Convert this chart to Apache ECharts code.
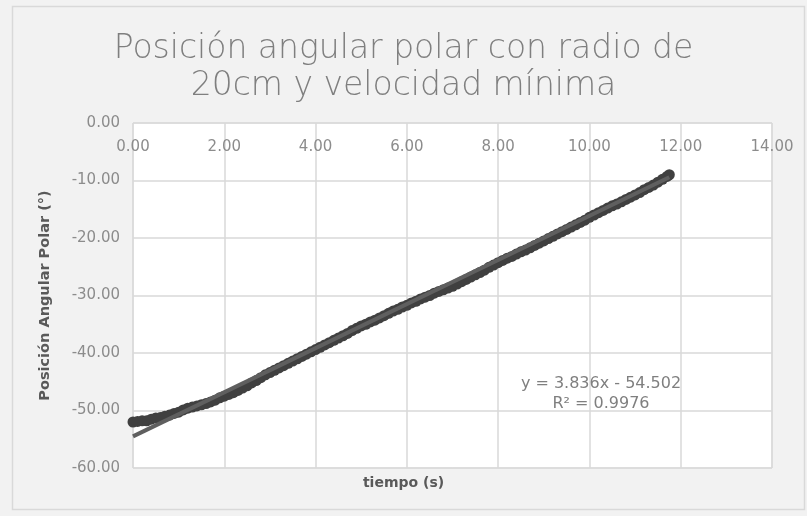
<!DOCTYPE html>
<html>
<head>
<meta charset="utf-8">
<script src="https://cdn.jsdelivr.net/npm/echarts@6/dist/echarts.min.js"></script>
<style>
html,body{margin:0;padding:0;background:#fff;}
#c{width:807px;height:516px;}
</style>
</head>
<body>
<div id="c"></div>
<script>
// time (s)
const tiempo = [0.0,0.1,0.2,0.3,0.4,0.5,0.6,0.7,0.8,0.9,1.0,1.1,1.2,1.3,1.4,1.5,1.6,1.7,1.8,1.9,
2.0,2.1,2.2,2.3,2.4,2.5,2.6,2.7,2.8,2.9,3.0,3.1,3.2,3.3,3.4,3.5,3.6,3.7,3.8,3.9,
4.0,4.1,4.2,4.3,4.4,4.5,4.6,4.7,4.8,4.9,5.0,5.1,5.2,5.3,5.4,5.5,5.6,5.7,5.8,5.9,
6.0,6.1,6.2,6.3,6.4,6.5,6.6,6.7,6.8,6.9,7.0,7.1,7.2,7.3,7.4,7.5,7.6,7.7,7.8,7.9,
8.0,8.1,8.2,8.3,8.4,8.5,8.6,8.7,8.8,8.9,9.0,9.1,9.2,9.3,9.4,9.5,9.6,9.7,9.8,9.9,
10.0,10.1,10.2,10.3,10.4,10.5,10.6,10.7,10.8,10.9,11.0,11.1,11.2,11.3,11.4,11.5,11.6,11.7,11.75];
// angular position (deg)
const posicion = [-52.0,-51.9,-51.8,-51.8,-51.5,-51.3,-51.2,-51.0,-50.8,-50.5,-50.3,-49.9,-49.6,-49.4,-49.2,-49.0,-48.8,-48.5,-48.2,-47.8,
-47.5,-47.2,-46.9,-46.5,-46.1,-45.7,-45.2,-44.8,-44.3,-43.8,-43.4,-43.0,-42.6,-42.2,-41.8,-41.4,-41.0,-40.6,-40.2,-39.8,
-39.4,-39.0,-38.6,-38.2,-37.8,-37.4,-37.0,-36.6,-36.1,-35.7,-35.3,-35.0,-34.6,-34.3,-33.9,-33.5,-33.1,-32.7,-32.4,-32.0,
-31.7,-31.3,-31.0,-30.6,-30.3,-30.0,-29.6,-29.3,-29.0,-28.7,-28.4,-28.0,-27.6,-27.2,-26.8,-26.4,-26.0,-25.6,-25.1,-24.7,
-24.3,-23.9,-23.5,-23.2,-22.8,-22.4,-22.1,-21.7,-21.3,-20.9,-20.5,-20.1,-19.7,-19.3,-18.9,-18.5,-18.1,-17.7,-17.3,-16.9,
-16.4,-16.0,-15.6,-15.2,-14.8,-14.4,-14.1,-13.7,-13.3,-12.9,-12.5,-12.1,-11.6,-11.2,-10.8,-10.3,-9.8,-9.3,-9.0];
// linear trendline end points (y = 3.836x - 54.502)
const trendX = [0.0, 11.75];
const trendY = [-54.50, -9.43];
const titleLines = ['Posición angular polar con radio de', '20cm y velocidad mínima'];
const eqLines = ['y = 3.836x - 54.502', 'R² = 0.9976'];
const xName = 'tiempo (s)';
const yName = 'Posición Angular Polar (°)';

const chart = echarts.init(document.getElementById('c'), null, {renderer:'canvas'});
const fam = '"DejaVu Sans", sans-serif';
chart.setOption({
  backgroundColor: '#f2f2f2',
  animation: false,
  title: {
    text: titleLines.join('\n'),
    left: 'center', top: 26,
    textStyle: {fontFamily: fam, fontWeight: 200, fontSize: 33, color: '#7f7f7f', lineHeight: 37}
  },
  grid: {left: 133, right: 35, top: 123, bottom: 48, show: true, backgroundColor: '#ffffff', borderColor: '#d9d9d9', borderWidth: 1},
  xAxis: {
    type: 'value', min: 0, max: 14, interval: 2, position: 'top',
    axisLine: {show: false}, axisTick: {show: false},
    splitLine: {show: true, lineStyle: {color: '#d9d9d9', width: 1.5}},
    axisLabel: {inside: true, margin: 17, formatter: v => v.toFixed(2), fontFamily: fam, fontSize: 15, color: '#8c8c8c'}
  },
  yAxis: {
    type: 'value', min: -60, max: 0, interval: 10,
    axisLine: {show: false}, axisTick: {show: false},
    splitLine: {show: true, lineStyle: {color: '#d9d9d9', width: 1.5}},
    axisLabel: {margin: 13, formatter: v => v.toFixed(2), fontFamily: fam, fontSize: 15, color: '#8c8c8c'},
    name: yName, nameLocation: 'middle', nameGap: 80, nameRotate: 90,
    nameTextStyle: {fontFamily: fam, fontWeight: 'bold', fontSize: 14.5, color: '#595959'}
  },
  graphic: [
    {type: 'rect', left: 10, top: 4, shape: {width: 792, height: 503}, style: {fill: 'none', stroke: '#d9d9d9', lineWidth: 1.5}, silent: true},
    {type: 'text', left: 'center', top: 476, style: {text: xName, font: 'bold 14px "DejaVu Sans"', fill: '#595959'}, z: 10},
    {type: 'text', x: 601, y: 384, style: {text: eqLines[0], font: '16px "DejaVu Sans"', fill: '#7f7f7f', align: 'center', verticalAlign: 'middle'}, z: 10},
    {type: 'text', x: 601, y: 404, style: {text: eqLines[1], font: '16px "DejaVu Sans"', fill: '#7f7f7f', align: 'center', verticalAlign: 'middle'}, z: 10}
  ],
  series: [
    {type: 'scatter', data: tiempo.map((t,i)=>[t, posicion[i]]), symbol: 'circle', symbolSize: 11,
     itemStyle: {color: '#404040', opacity: 1}, z: 2},
    {type: 'line', data: trendX.map((t,i)=>[t, trendY[i]]), symbol: 'none',
     lineStyle: {color: '#5f5f5f', width: 4}, z: 3}
  ]
});
</script>
</body>
</html>
